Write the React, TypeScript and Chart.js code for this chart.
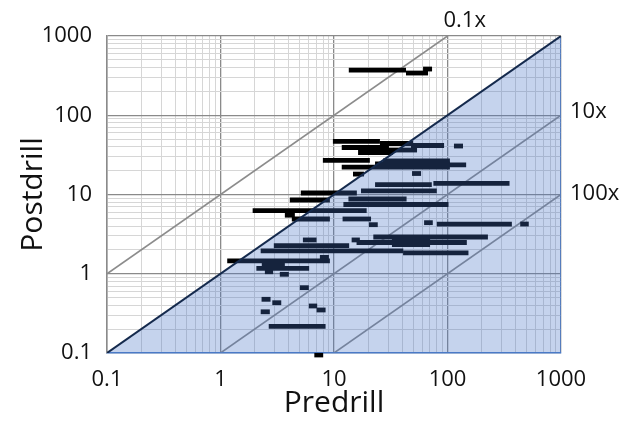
import React, { useEffect, useRef } from "react";
import { Chart, registerables } from "chart.js";

Chart.register(...registerables);

// Horizontal range bars: postdrill value (y) and predrill range (x low..high)
const barPostdrill = [
  372, 341, 383,
  46.7, 44.0, 41.5, 40.9, 39.2, 36.4, 33.9, 26.9, 26.5, 24.3, 23.6, 22.2, 18.1, 18.4,
  13.3, 13.8, 11.1, 10.45, 8.78, 8.52, 7.48, 6.25, 5.48, 4.91, 4.91, 4.16, 4.41, 4.24, 4.24,
  2.91, 2.78, 2.59, 2.34, 2.67, 2.67, 2.48, 2.26, 1.94, 1.83, 1.61,
  1.45, 1.33, 1.17, 1.06, 0.984, 0.667, 0.476, 0.431, 0.392, 0.349, 0.331, 0.217, 0.0944,
];
const barPredrillLow = [
  13.5, 43.1, 60.9,
  9.78, 25.4, 47.7, 114, 11.7, 29.3, 16.3, 7.98, 27.0, 23.0, 25.9, 11.7, 14.7, 48.7,
  23.0, 75.1, 17.3, 5.1, 13.4, 4.08, 12.1, 1.92, 3.69, 4.25, 11.9, 20.3, 62.2, 80.5, 437,
  22.2, 32.4, 32.4, 32.4, 5.32, 14.3, 15.8, 2.95, 2.26, 40.6, 7.51,
  1.146, 2.31, 2.07, 2.46, 3.33, 5.0, 2.3, 2.86, 6.0, 7.02, 2.26, 2.66, 6.71,
];
const barPredrillHigh = [
  43.1, 67.4, 73.1,
  25.4, 49.7, 93.3, 137, 30.5, 53.9, 33.1, 20.7, 105, 105, 146, 105, 18.4, 58.5,
  72.7, 352, 80.5, 15.9, 43.6, 9.2, 102, 19.4, 4.52, 9.2, 21.2, 24.3, 74.2, 369, 520,
  227, 70.2, 70.2, 70.2, 7.02, 16.9, 148, 13.6, 40.8, 153, 9.02,
  9.2, 3.69, 6.04, 2.91, 4.0, 6.0, 2.76, 3.43, 7.11, 8.43, 2.72, 8.43, 8.03,
];

// Reference lines (ratio of predrill to postdrill)
const ratioLabels = ["0.1x", "10x", "100x"];
const ratioFactors = [0.1, 10, 100];

const axisMin = 0.1;
const axisMax = 1000;
const tickValues = [0.1, 1, 10, 100, 1000];
const tickLabels = ["0.1", "1", "10", "100", "1000"];

const MAJOR = "#8a8a8a";
const MINOR = "#d6d6d6";
const FONT = "'Open Sans', 'Liberation Sans', sans-serif";

function allTicks() {
  const out: number[] = [];
  for (let d = axisMin; d < axisMax * 0.999; d *= 10) {
    for (let k = 1; k <= 9; k++) out.push(Number((k * d).toPrecision(6)));
  }
  out.push(axisMax);
  return out;
}

function isMajor(v: number) {
  return tickValues.some((t) => Math.abs(t - v) / t < 1e-6);
}

function labelFor(v: number) {
  const i = tickValues.findIndex((t) => Math.abs(t - v) / t < 1e-6);
  return i >= 0 ? tickLabels[i] : "";
}

const textPlugin = {
  id: "ratioText",
  afterDraw(chart: any) {
    const { ctx, chartArea, scales } = chart;
    const x = scales.x;
    const y = scales.y;
    ctx.save();
    ctx.fillStyle = "#111";
    ctx.font = `22px ${FONT}`;
    ctx.textBaseline = "middle";
    ctx.textAlign = "left";
    ctx.fillText(ratioLabels[0], x.getPixelForValue(100) - 4, chartArea.top - 15);
    ctx.fillText(ratioLabels[1], chartArea.right + 9, y.getPixelForValue(100) - 4);
    ctx.fillText(ratioLabels[2], chartArea.right + 9, y.getPixelForValue(10) - 1);
    ctx.restore();
  },
};

export default function App() {
  const ref = useRef<HTMLCanvasElement | null>(null);

  useEffect(() => {
    if (!ref.current) return;
    const datasets: any[] = [];

    // Blue shaded region below 1:1 line (drawn on top)
    datasets.push({
      data: [
        { x: axisMin, y: axisMin },
        { x: axisMax, y: axisMax },
      ],
      borderColor: "#152a4d",
      borderWidth: 2,
      backgroundColor: "rgba(68,114,196,0.31)",
      fill: "start",
      pointRadius: 0,
    });
    // Blue frame on bottom and right of the shaded region
    datasets.push({
      data: [
        { x: axisMin, y: axisMin },
        { x: axisMax, y: axisMin },
        { x: axisMax, y: axisMax },
      ],
      borderColor: "#4f7fc8",
      borderWidth: 1.5,
      fill: false,
      pointRadius: 0,
    });

    // Bars
    for (let i = 0; i < barPostdrill.length; i++) {
      datasets.push({
        data: [
          { x: barPredrillLow[i], y: barPostdrill[i] },
          { x: barPredrillHigh[i], y: barPostdrill[i] },
        ],
        borderColor: "#000000",
        borderWidth: 4.8,
        borderCapStyle: "butt",
        fill: false,
        pointRadius: 0,
        clip: false,
      });
    }

    // Ratio lines: predrill = factor * postdrill
    ratioFactors.forEach((f) => {
      const xa = Math.max(axisMin, axisMin * f);
      const xb = Math.min(axisMax, axisMax * f);
      datasets.push({
        data: [
          { x: xa, y: xa / f },
          { x: xb, y: xb / f },
        ],
        borderColor: "#8c8c8c",
        borderWidth: 1.6,
        fill: false,
        pointRadius: 0,
      });
    });

    const ticksList = allTicks();

    const chart = new Chart(ref.current, {
      type: "line",
      data: { datasets },
      plugins: [textPlugin],
      options: {
        animation: false,
        responsive: false,
        devicePixelRatio: 1,
        layout: { padding: { top: 36, right: 74, left: 0, bottom: 0 } },
        plugins: { legend: { display: false }, tooltip: { enabled: false } },
        elements: { line: { tension: 0 } },
        scales: {
          x: {
            type: "logarithmic",
            min: axisMin,
            max: axisMax,
            afterBuildTicks: (s: any) => {
              s.ticks = ticksList.map((v) => ({ value: v, major: isMajor(v) }));
            },
            afterFit: (s: any) => {
              s.height = 76;
            },
            grid: {
              color: (c: any) => (c.tick && isMajor(c.tick.value) ? MAJOR : MINOR),
              lineWidth: (c: any) => (c.tick && isMajor(c.tick.value) ? 1.3 : 1),
              drawTicks: false,
            },
            border: { color: "#4f7fc8", width: 1.5 },
            ticks: {
              autoSkip: false,
              maxRotation: 0,
              minRotation: 0,
              padding: 14,
              color: "#111",
              font: { family: FONT, size: 22 },
              callback: (v: any) => labelFor(Number(v)),
            },
            title: {
              display: true,
              text: "Predrill",
              color: "#111",
              font: { family: FONT, size: 30 },
              padding: { top: 0, bottom: 8 },
            },
          },
          y: {
            type: "logarithmic",
            min: axisMin,
            max: axisMax,
            afterBuildTicks: (s: any) => {
              s.ticks = ticksList.map((v) => ({ value: v, major: isMajor(v) }));
            },
            afterFit: (s: any) => {
              s.width = 107;
            },
            grid: {
              color: (c: any) => (c.tick && isMajor(c.tick.value) ? MAJOR : MINOR),
              lineWidth: (c: any) => (c.tick && isMajor(c.tick.value) ? 1.3 : 1),
              drawTicks: false,
            },
            border: { color: MAJOR, width: 1.5 },
            ticks: {
              autoSkip: false,
              padding: 15,
              color: "#111",
              font: { family: FONT, size: 22 },
              callback: (v: any) => labelFor(Number(v)),
            },
            title: {
              display: true,
              text: "Postdrill",
              color: "#111",
              font: { family: FONT, size: 30 },
              padding: { top: 15, bottom: 0 },
            },
          },
        },
      },
    } as any);

    return () => chart.destroy();
  }, []);

  return (
    <div style={{ position: "fixed", left: 0, top: 0, width: 635, height: 429, background: "#fff" }}>
      <canvas ref={ref} width={635} height={429} style={{ display: "block" }} />
    </div>
  );
}
